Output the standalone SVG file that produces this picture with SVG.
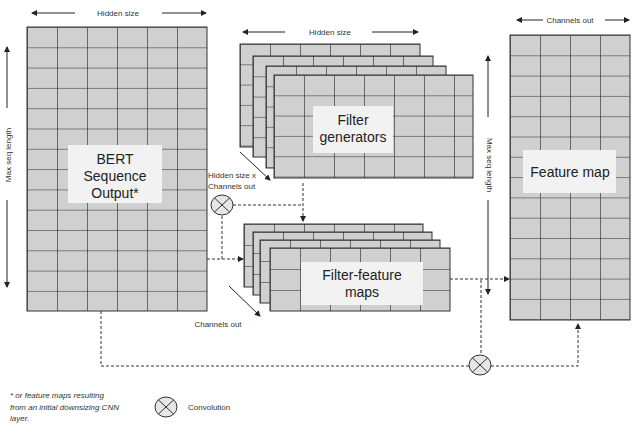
<svg xmlns="http://www.w3.org/2000/svg" width="640" height="425" viewBox="0 0 640 425">
<style>
text{font-family:"Liberation Sans",Arial,sans-serif;fill:#222}
.s{font-size:8px;fill:#333}
.l{font-size:14px;text-anchor:middle}
.lb{fill:#f2f2f2}
.dash{fill:none;stroke:#333;stroke-width:1;stroke-dasharray:3,2}
.ar{stroke:#222;stroke-width:1;fill:none}
.cv{fill:#e6e6e6;stroke:#333;stroke-width:1}
.g{fill:url(#cell);stroke:#333;stroke-width:1}
</style>
<defs>
<pattern id="cell" patternUnits="userSpaceOnUse" width="30" height="20.3">
<rect width="30" height="20.3" fill="#d0d0d0"/>
<path d="M0 0H30M0 0V20.3" stroke="#222" stroke-width="1.2"/>
</pattern>
<pattern id="cell2" patternUnits="userSpaceOnUse" width="30" height="21">
<rect width="30" height="21" fill="#d0d0d0"/>
<path d="M0 0H30M0 0V21" stroke="#222" stroke-width="1.2"/>
</pattern>
<marker id="ah" markerWidth="6" markerHeight="6" refX="5" refY="3" orient="auto" markerUnits="userSpaceOnUse"><path d="M0 0L6 3L0 6z" fill="#222"/></marker>
<symbol id="conv" overflow="visible"><ellipse cx="0" cy="0" rx="11" ry="10" class="cv"/><path d="M-7.5 -7L7.5 7M-7.5 7L7.5 -7" stroke="#333"/></symbol>
</defs>

<g id="bert">
<g transform="translate(27,27)"><rect width="180" height="284" class="g"/></g>
<rect x="68" y="145" width="94" height="58" class="lb"/>
<text class="l" x="115" y="164">BERT</text>
<text class="l" x="115" y="181">Sequence</text>
<text class="l" x="115" y="198">Output*</text>
<text class="s" x="118" y="16" text-anchor="middle">Hidden size</text>
<line x1="75" y1="13" x2="32" y2="13" class="ar" marker-end="url(#ah)"/>
<line x1="162" y1="13" x2="206" y2="13" class="ar" marker-end="url(#ah)"/>
<text class="s" transform="translate(11,155) rotate(-90)" text-anchor="middle">Max seq length</text>
<line x1="7" y1="108" x2="7" y2="47" class="ar" marker-end="url(#ah)"/>
<line x1="7" y1="200" x2="7" y2="287" class="ar" marker-end="url(#ah)"/>
</g>

<g id="filter-generators">
<g transform="translate(240,44)"><rect width="180" height="103" class="g"/></g>
<g transform="translate(253,56)"><rect width="180" height="101" class="g"/></g>
<g transform="translate(266,66)"><rect width="180" height="102" class="g"/></g>
<g transform="translate(274,75)"><rect width="199" height="103" class="g"/></g>
<rect x="313" y="106" width="80" height="47" class="lb"/>
<text class="l" x="353" y="125">Filter</text>
<text class="l" x="353" y="142">generators</text>
<text class="s" x="330" y="35" text-anchor="middle">Hidden size</text>
<line x1="285" y1="32" x2="243" y2="32" class="ar" marker-end="url(#ah)"/>
<line x1="372" y1="32" x2="418" y2="32" class="ar" marker-end="url(#ah)"/>
<line x1="240" y1="152" x2="270" y2="180" class="ar" marker-end="url(#ah)"/>
<text class="s" x="208" y="178">Hidden size x</text>
<text class="s" x="208" y="189">Channels out</text>
</g>

<g id="filter-feature-maps">
<g transform="translate(244,224)"><rect width="179" height="63" class="g" fill="url(#cell2)" style="fill:url(#cell2)"/></g>
<g transform="translate(253,232)"><rect width="179" height="63" style="fill:url(#cell2);stroke:#333"/></g>
<g transform="translate(260,240)"><rect width="180" height="63" style="fill:url(#cell2);stroke:#333"/></g>
<g transform="translate(270,248)"><rect width="180" height="63" style="fill:url(#cell2);stroke:#333"/></g>
<rect x="301" y="262" width="122" height="43" class="lb"/>
<text class="l" x="362" y="280">Filter-feature</text>
<text class="l" x="362" y="297">maps</text>
<line x1="229" y1="286" x2="260" y2="316" class="ar" marker-end="url(#ah)"/>
<text class="s" x="218" y="327" text-anchor="middle">Channels out</text>
</g>

<g id="feature-map">
<g transform="translate(510,35)"><rect width="120" height="285" class="g"/></g>
<rect x="523" y="150" width="93" height="43" class="lb"/>
<text class="l" x="570" y="177">Feature map</text>
<text class="s" x="570" y="23" text-anchor="middle">Channels out</text>
<line x1="543" y1="20" x2="517" y2="20" class="ar" marker-end="url(#ah)"/>
<line x1="605" y1="20" x2="629" y2="20" class="ar" marker-end="url(#ah)"/>
<text class="s" transform="translate(487,165) rotate(90)" text-anchor="middle">Max seq length</text>
<line x1="488" y1="117" x2="488" y2="56" class="ar" marker-end="url(#ah)"/>
<line x1="488" y1="200" x2="488" y2="294" class="ar" marker-end="url(#ah)"/>
</g>

<g id="conv1"><use href="#conv" x="222" y="205"/></g>
<g id="conv2"><use href="#conv" x="480" y="365"/></g>

<g id="connectors">
<path d="M233 205H303" class="dash"/>
<path d="M303 183V221" class="dash" marker-end="url(#ah)"/>
<path d="M222 216V259" class="dash"/>
<path d="M207 259H243" class="dash" marker-end="url(#ah)"/>
<path d="M450 279H509" class="dash" marker-end="url(#ah)"/>
<path d="M481 280V354" class="dash"/>
<path d="M101 311V366H469" class="dash"/>
<path d="M491 366H578V324" class="dash" marker-end="url(#ah)"/>
</g>

<g id="legend">
<text class="s" x="10" y="398" font-style="italic">* or feature maps resulting</text>
<text class="s" x="10" y="410" font-style="italic">from an initial downsizing CNN</text>
<text class="s" x="10" y="421" font-style="italic">layer.</text>
<use href="#conv" x="166" y="407"/>
<text class="s" x="188" y="410">Convolution</text>
</g>
</svg>
